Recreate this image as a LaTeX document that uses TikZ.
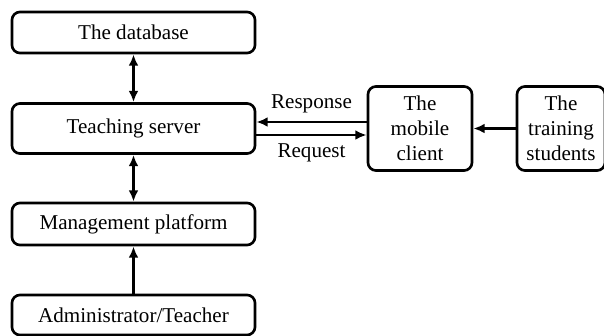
\documentclass[tikz,border=0pt]{standalone}
\usepackage{fontspec}
\setmainfont{Liberation Serif}
\usetikzlibrary{positioning,arrows.meta}

\begin{document}
\begin{tikzpicture}[
  >={Latex[length=6.5pt,width=5.6pt]},
  line width=1.5pt,
  every node/.style={font=\fontsize{12}{14.2}\selectfont},
  box/.style={draw, rounded corners=4.5pt, inner sep=0pt, align=center},
  widebox/.style={box, minimum width=4.86cm},
  tallbox/.style={box, minimum height=1.68cm}
]
  \useasboundingbox (0,0) rectangle (12.08,-6.72);

  \node[widebox, minimum height=0.82cm] (db) at (2.67,-0.65) {The database};
  \node[widebox, minimum height=1.0cm] (srv) at (2.67,-2.57) {Teaching server};
  \node[widebox, minimum height=0.84cm] (mgmt) at (2.67,-4.48) {Management platform};
  \node[widebox, minimum height=0.80cm] (admin) at (2.67,-6.30) {Administrator/Teacher};
  \node[tallbox, minimum width=2.08cm] (mobile) at (8.40,-2.57) {The\\mobile\\client};
  \node[tallbox, minimum width=1.76cm] (stud) at (11.22,-2.57) {The\\training\\students};

  \path[->, line width=1.5pt]
    (db) edge[<->] (srv)
    (srv) edge[<->] (mgmt)
    (admin) edge (mgmt)
    ([yshift=0.13cm]mobile.west) edge node[above, yshift=1pt] {Response} ([yshift=0.13cm]srv.east)
    ([yshift=-0.13cm]srv.east) edge node[below, yshift=-1pt] {Request} ([yshift=-0.13cm]mobile.west)
    (stud) edge (mobile);
\end{tikzpicture}
\end{document}
